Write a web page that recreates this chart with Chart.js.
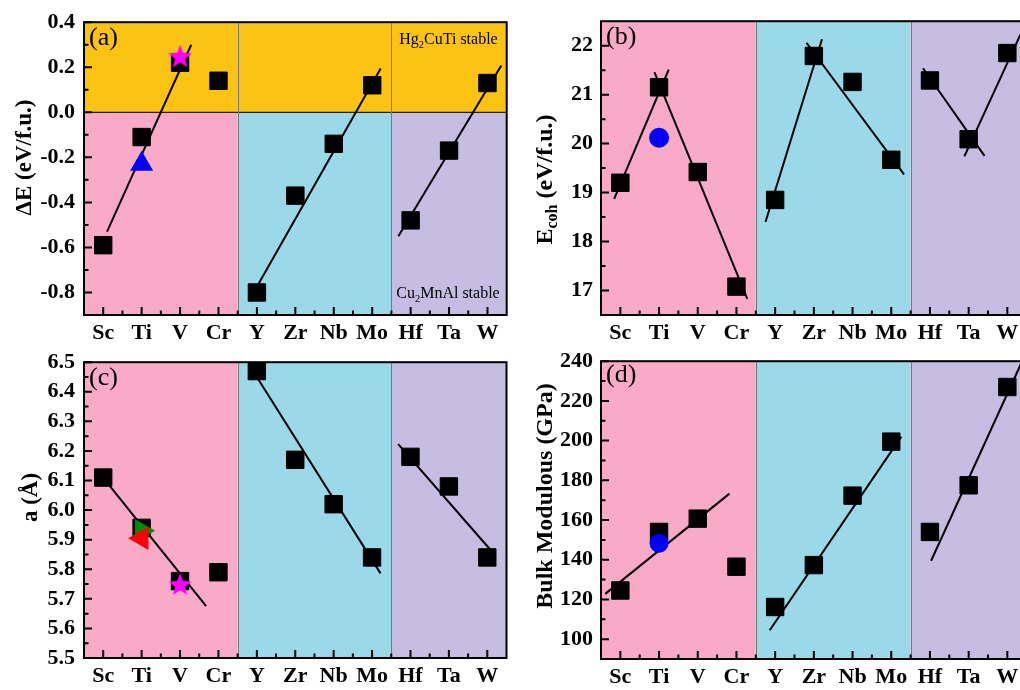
<!DOCTYPE html>
<html>
<head>
<meta charset="utf-8">
<script src="https://cdn.jsdelivr.net/npm/chart.js@4.4.1/dist/chart.umd.min.js"></script>
<style>
  html, body { margin: 0; padding: 0; background: #fff; }
  body { position: relative; width: 1020px; height: 690px; overflow: hidden; }
  .panel { position: absolute; }
</style>
</head>
<body>
<div class="panel" style="left:0;top:0"><canvas id="pa" width="520" height="345"></canvas></div>
<div class="panel" style="left:500px;top:0"><canvas id="pb" width="540" height="345"></canvas></div>
<div class="panel" style="left:0;top:340px"><canvas id="pc" width="520" height="350"></canvas></div>
<div class="panel" style="left:500px;top:340px"><canvas id="pd" width="540" height="350"></canvas></div>
<script>
// Alloying elements, grouped 3d / 4d / 5d
const elements = ['Sc', 'Ti', 'V', 'Cr', 'Y', 'Zr', 'Nb', 'Mo', 'Hf', 'Ta', 'W'];
const groupEdges = [-0.5, 3.5, 7.5, 10.5];

// (a) energy difference between the two orderings
const deltaE = [-0.59, -0.11, 0.22, 0.14, -0.80, -0.37, -0.14, 0.12, -0.48, -0.17, 0.13];
const deltaETriangle = [['Ti', -0.23]];
const deltaEStar = [['V', 0.25]];
const deltaEFits = [
  [[0.10, -0.53], [2.29, 0.30]],
  [[3.80, -0.835], [7.22, 0.194]],
  [[7.68, -0.55], [10.36, 0.208]]
];
const deltaETicks = [-0.8, -0.6, -0.4, -0.2, 0.0, 0.2, 0.4];
const deltaERange = [-0.9, 0.4];

// (b) cohesive energy
const ecoh = [19.20, 21.15, 19.42, 17.08, 18.85, 21.79, 21.26, 19.67, 21.29, 20.09, 21.85];
const ecohCircle = [['Ti', 20.12]];
const ecohFits = [
  [[-0.16, 18.87], [1.25, 21.51]],
  [[0.88, 21.46], [3.28, 16.83]],
  [[3.75, 18.40], [5.21, 22.13]],
  [[4.81, 22.06], [7.33, 19.37]],
  [[7.82, 21.54], [9.41, 19.75]],
  [[8.89, 19.74], [10.45, 22.42]]
];
const ecohTicks = [17, 18, 19, 20, 21, 22];
const ecohRange = [16.5, 22.5];

// (c) lattice constant
const lattice = [6.11, 5.94, 5.76, 5.79, 6.47, 6.17, 6.02, 5.84, 6.18, 6.08, 5.84];
const latticeRightTri = [['Ti', 5.93]];
const latticeLeftTri = [['Ti', 5.905]];
const latticeStar = [['V', 5.75]];
const latticeFits = [
  [[0.18, 6.08], [2.68, 5.675]],
  [[3.95, 6.46], [7.22, 5.786]],
  [[7.68, 6.223], [10.08, 5.866]]
];
const latticeTicks = [5.5, 5.6, 5.7, 5.8, 5.9, 6.0, 6.1, 6.2, 6.3, 6.4, 6.5];
const latticeRange = [5.5, 6.5];

// (d) bulk modulus
const bulk = [124.5, 154, 160.7, 136.5, 116.2, 137.3, 172.3, 199.5, 154, 177.5, 227];
const bulkCircle = [['Ti', 148.3]];
const bulkFits = [
  [[-0.39, 122.8], [2.82, 173.3]],
  [[3.86, 104.5], [7.26, 202]],
  [[8.03, 139.5], [10.35, 238.6]]
];
const bulkTicks = [100, 120, 140, 160, 180, 200, 220, 240];
const bulkRange = [90, 240];

const SERIF = '"Liberation Serif", "Times New Roman", serif';
const C = {
  gold: '#FDC312', pink: '#F9AAC7', cyan: '#9BD8E8', lav: '#C6BDE2',
  divider: '#737880', blue: '#0000FF', magenta: '#FF00FF', green: '#008A00', red: '#FF0000'
};
const groupColors = [C.pink, C.cyan, C.lav];

// filled five-point star used as a point style
function starSprite(size, color) {
  const c = document.createElement('canvas');
  c.width = size; c.height = size;
  const g = c.getContext('2d');
  const R = size / 2, r = R * 0.42;
  const cy = R + (R - R * Math.cos(Math.PI / 5)) / 2;
  g.beginPath();
  for (let i = 0; i < 10; i++) {
    const a = -Math.PI / 2 + i * Math.PI / 5;
    const rr = i % 2 ? r : R;
    g.lineTo(R + rr * Math.cos(a), cy + rr * Math.sin(a));
  }
  g.closePath();
  g.fillStyle = color;
  g.fill();
  return c;
}

// text runs with optional subscripts
function drawRich(ctx, segs, x, y, size, weight, align, vertical) {
  ctx.save();
  ctx.translate(x, y);
  if (vertical) ctx.rotate(-Math.PI / 2);
  ctx.fillStyle = '#000';
  ctx.textBaseline = 'alphabetic';
  ctx.textAlign = 'left';
  let total = 0;
  const parts = segs.map(s => {
    const fs = s.sub ? s.subSize || size * 0.65 : size;
    ctx.font = `${weight} ${fs}px ${SERIF}`;
    const w = ctx.measureText(s.t).width;
    total += w;
    return { s, fs, w };
  });
  let cx = align === 'center' ? -total / 2 : align === 'right' ? -total : 0;
  parts.forEach(p => {
    ctx.font = `${weight} ${p.fs}px ${SERIF}`;
    ctx.fillText(p.s.t, cx, p.s.sub ? size * 0.22 : 0);
    cx += p.w;
  });
  ctx.restore();
}

const panelDecor = {
  id: 'panelDecor',
  beforeDatasetsDraw(chart, args, o) {
    const { ctx, chartArea: a, scales: { x, y } } = chart;
    ctx.save();
    for (let g = 0; g < 3; g++) {
      const x0 = x.getPixelForValue(groupEdges[g]);
      const x1 = x.getPixelForValue(groupEdges[g + 1]);
      ctx.fillStyle = groupColors[g];
      ctx.fillRect(x0, a.top, x1 - x0, a.bottom - a.top);
    }
    if (o.upperFrom !== undefined) {
      const y0 = y.getPixelForValue(o.upperFrom);
      ctx.fillStyle = C.gold;
      ctx.fillRect(a.left, a.top, a.right - a.left, y0 - a.top);
      ctx.strokeStyle = '#222';
      ctx.lineWidth = 1.2;
      ctx.beginPath();
      ctx.moveTo(a.left, y0); ctx.lineTo(a.right, y0);
      ctx.stroke();
    }
    ctx.strokeStyle = C.divider;
    ctx.lineWidth = 1;
    [groupEdges[1], groupEdges[2]].forEach(v => {
      const px = Math.round(x.getPixelForValue(v)) + 0.5;
      ctx.beginPath();
      ctx.moveTo(px, a.top); ctx.lineTo(px, a.bottom);
      ctx.stroke();
    });
    ctx.restore();
  },
  afterDraw(chart, args, o) {
    const { ctx, chartArea: a, scales: { x, y } } = chart;
    ctx.save();
    ctx.strokeStyle = '#000';
    ctx.lineWidth = 2;
    ctx.strokeRect(a.left, a.top, a.right - a.left, a.bottom - a.top);
    // inward tick marks on left and bottom axes
    const yt = o.yTicks;
    const yMinor = yt.slice(0, -1).map((v, i) => (v + yt[i + 1]) / 2);
    ctx.beginPath();
    yt.forEach(v => { const p = y.getPixelForValue(v); ctx.moveTo(a.left, p); ctx.lineTo(a.left + 8, p); });
    yMinor.forEach(v => { const p = y.getPixelForValue(v); ctx.moveTo(a.left, p); ctx.lineTo(a.left + 4.5, p); });
    elements.forEach((e, i) => { const p = x.getPixelForValue(i); ctx.moveTo(p, a.bottom); ctx.lineTo(p, a.bottom - 8); });
    elements.slice(0, -1).forEach((e, i) => { const p = x.getPixelForValue(i + 0.5); ctx.moveTo(p, a.bottom); ctx.lineTo(p, a.bottom - 4.5); });
    ctx.stroke();
    ctx.restore();
    // panel letter
    drawRich(ctx, [{ t: o.letter }], a.left + 5, a.top + o.letterDy, 26, 'normal', 'left', false);
    // notes
    (o.notes || []).forEach(n => drawRich(ctx, n.segs, a.right + n.dx, n.fromBottom ? a.bottom + n.dy : a.top + n.dy, 16, 'normal', 'right', false));
    // axis title
    drawRich(ctx, o.title, o.titleX, o.titleY, o.titleSize, 'bold', 'center', true);
  }
};

function toPoints(list) {
  return list.map(([el, v]) => ({ x: elements.indexOf(el), y: v }));
}

function makePanel(id, p) {
  const datasets = [];
  (p.markers || []).forEach(m => datasets.push({
    data: toPoints(m.data), pointStyle: m.style, pointRadius: m.r, rotation: m.rot || 0,
    backgroundColor: m.color, borderColor: m.color, borderWidth: 0, order: m.order || 0
  }));
  p.fits.forEach(f => datasets.push({
    data: f.map(([x, y]) => ({ x, y })), showLine: true, borderColor: '#000', borderWidth: 2,
    pointRadius: 0, order: 5
  }));
  datasets.push({
    data: elements.map((e, i) => ({ x: i, y: p.values[i] })), pointStyle: 'rect', pointRadius: 12.3,
    backgroundColor: '#000', borderColor: '#000', borderWidth: 1, order: 6
  });
  const tickFont = { family: SERIF, weight: 'bold', size: 22 };
  return new Chart(document.getElementById(id), {
    type: 'scatter',
    data: { datasets },
    options: {
      responsive: false, animation: false, events: [],
      layout: { padding: { left: 0, top: p.box.T, right: p.box.R, bottom: 0 } },
      plugins: {
        legend: { display: false }, tooltip: { enabled: false },
        panelDecor: {
          yTicks: p.ticks, letter: p.letter, letterDy: p.letterDy, notes: p.notes,
          upperFrom: p.upperFrom, title: p.title, titleX: p.titleX, titleY: p.titleY,
          titleSize: p.titleSize
        }
      },
      scales: {
        x: {
          type: 'linear', min: -0.5, max: 10.5,
          grid: { display: false, drawTicks: false }, border: { display: false },
          afterBuildTicks: s => { s.ticks = elements.map((e, i) => ({ value: i })); },
          afterFit: s => { s.height = p.box.H; },
          ticks: { autoSkip: false, maxRotation: 0, padding: p.xPad, color: '#000', font: tickFont,
            callback: v => elements[v] }
        },
        y: {
          type: 'linear', min: p.range[0], max: p.range[1],
          grid: { display: false, drawTicks: false }, border: { display: false },
          afterBuildTicks: s => { s.ticks = p.ticks.map(v => ({ value: v })); },
          afterFit: s => { s.width = p.box.L; },
          ticks: { padding: p.yPad, color: '#000', font: tickFont, callback: v => p.fmt(v) }
        }
      }
    },
    plugins: [panelDecor]
  });
}

const fmt1 = v => v.toFixed(1);
const fmt0 = v => String(Math.round(v));

makePanel('pa', {
  values: deltaE, fits: deltaEFits, ticks: deltaETicks, range: deltaERange, fmt: fmt1,
  box: { L: 84, T: 15, R: 8, H: 30 }, xPad: 5, yPad: 9,
  upperFrom: 0, letter: '(a)', letterDy: 23,
  markers: [
    { data: deltaEStar, style: starSprite(25, C.magenta), r: 11 },
    { data: deltaETriangle, style: 'triangle', r: 13.3, color: C.blue }
  ],
  notes: [
    { segs: [{ t: 'Hg' }, { t: '2', sub: true }, { t: 'CuTi stable' }], dx: -9, dy: 22 },
    { segs: [{ t: 'Cu' }, { t: '2', sub: true }, { t: 'MnAl stable' }], dx: -7, dy: -17, fromBottom: true }
  ],
  title: [{ t: '\u0394E (eV/f.u.)' }], titleX: 31, titleY: 157.5, titleSize: 23
});

makePanel('pb', {
  values: ecoh, fits: ecohFits, ticks: ecohTicks, range: ecohRange, fmt: fmt0,
  box: { L: 101, T: 16, R: 12.5, H: 30 }, xPad: 5, yPad: 8,
  letter: '(b)', letterDy: 23,
  markers: [{ data: ecohCircle, style: 'circle', r: 10, color: C.blue }],
  title: [{ t: 'E' }, { t: 'coh', sub: true, subSize: 16 }, { t: ' (eV/f.u.)' }],
  titleX: 52, titleY: 179.5, titleSize: 24
});

makePanel('pc', {
  values: lattice, fits: latticeFits, ticks: latticeTicks, range: latticeRange, fmt: fmt1,
  box: { L: 84, T: 18, R: 8, H: 32 }, xPad: 5, yPad: 9,
  letter: '(c)', letterDy: 23,
  markers: [
    { data: latticeStar, style: starSprite(24, C.magenta), r: 11 },
    { data: latticeLeftTri, style: 'triangle', r: 13.5, rot: -90, color: C.red },
    { data: latticeRightTri, style: 'triangle', r: 13.5, rot: 90, color: C.green, order: 1 }
  ],
  title: [{ t: 'a (\u00C5)' }], titleX: 37, titleY: 157.5, titleSize: 23
});

makePanel('pd', {
  values: bulk, fits: bulkFits, ticks: bulkTicks, range: bulkRange, fmt: fmt0,
  box: { L: 101, T: 19, R: 12.5, H: 31 }, xPad: 5, yPad: 8,
  letter: '(d)', letterDy: 21,
  markers: [{ data: bulkCircle, style: 'circle', r: 9.5, color: C.blue }],
  title: [{ t: 'Bulk Modulous (GPa)' }], titleX: 52, titleY: 156, titleSize: 24
});
</script>
</body>
</html>
